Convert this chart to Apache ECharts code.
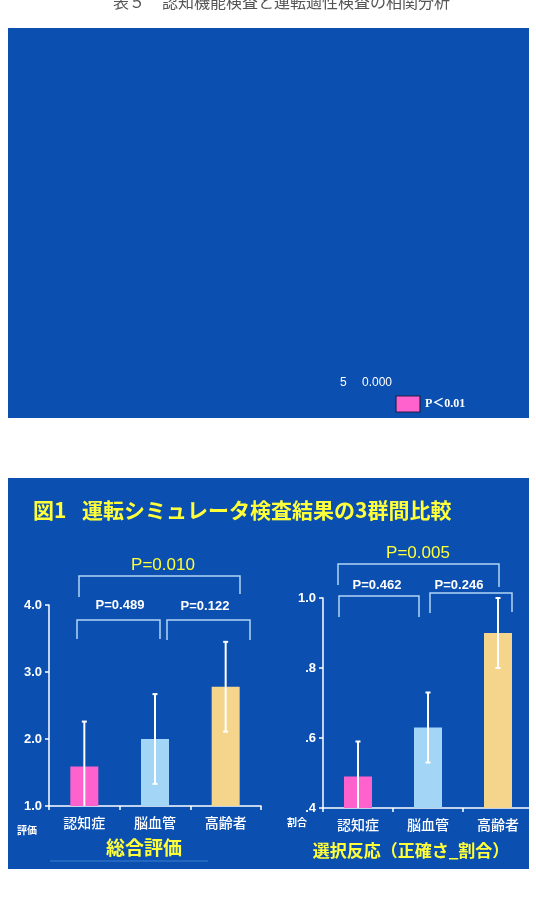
<!DOCTYPE html>
<html><head><meta charset="utf-8">
<script src="https://cdn.jsdelivr.net/npm/echarts@6/dist/echarts.min.js"></script>
<style>html,body{margin:0;padding:0;background:#fff}#c{width:536px;height:906px}</style>
</head><body><div id="c"></div>
<script>
// ---- data ----
var groups = ['認知症', '脳血管', '高齢者'];
var totalMean = [1.59, 2.00, 2.78];
var totalSD = [0.67, 0.67, 0.67];
var choiceMean = [0.49, 0.63, 0.90];
var choiceSD = [0.10, 0.10, 0.10];
var totalTicks = [1.0, 4.0, 1.0];   // min, max, interval
var choiceTicks = [0.4, 1.0, 0.2];
var pTotal = ['P=0.010', 'P=0.489', 'P=0.122'];
var pChoice = ['P=0.005', 'P=0.462', 'P=0.246'];
var barColors = ['#ff62cc', '#a3d5f7', '#f5d58c'];

var BLUE = '#0b4fb1', YEL = '#ffff3a', BR = '#b3d6f6';
var chart = echarts.init(document.getElementById('c'), null, {renderer: 'canvas'});

function errData(mean, sd) {
  return mean.map(function (m, i) { return [i, m - sd[i], m + sd[i]]; });
}
function errRender(minV) {
  return function (params, api) {
    var i = api.value(0), lo = api.value(1), hi = api.value(2);
    var clipped = lo < minV;
    var top = api.coord([i, hi]);
    var bot = api.coord([i, Math.max(lo, minV)]);
    var ch = [
      {type: 'line', shape: {x1: top[0], y1: top[1], x2: bot[0], y2: bot[1]}, style: {stroke: '#fff', lineWidth: 2}},
      {type: 'line', shape: {x1: top[0] - 2.5, y1: top[1], x2: top[0] + 2.5, y2: top[1]}, style: {stroke: '#fff', lineWidth: 2}}
    ];
    if (!clipped) ch.push({type: 'line', shape: {x1: bot[0] - 2.5, y1: bot[1], x2: bot[0] + 2.5, y2: bot[1]}, style: {stroke: '#fff', lineWidth: 2}});
    return {type: 'group', children: ch};
  };
}
function yFmt1(v) { return v.toFixed(1); }
function yFmt2(v) { return v.toFixed(1).replace(/^0/, ''); }

function yAxis(gi, t, fmt) {
  return {
    gridIndex: gi, type: 'value', min: t[0], max: t[1], interval: t[2],
    axisLine: {show: true, lineStyle: {color: '#fff', width: 1.5}},
    axisTick: {show: true, length: 4, lineStyle: {color: '#fff', width: 1.5}},
    splitLine: {show: false},
    axisLabel: {color: '#fff', fontSize: 13, fontWeight: 'bold', fontFamily: 'Liberation Sans, Arial', margin: 7, formatter: fmt}
  };
}
function xAxis(gi) {
  return {
    gridIndex: gi, type: 'category', data: groups,
    axisLine: {show: true, lineStyle: {color: '#fff', width: 1.5}},
    axisTick: {show: true, length: 4, lineStyle: {color: '#fff', width: 1.5}},
    axisLabel: {color: '#fff', fontSize: 14, fontWeight: 500, fontFamily: 'Noto Sans CJK JP', margin: 10}
  };
}
function bars(xi, mean) {
  return {
    type: 'bar', xAxisIndex: xi, yAxisIndex: xi, barWidth: 28,
    data: mean.map(function (v, i) { return {value: v, itemStyle: {color: barColors[i]}}; })
  };
}
function txt(x, y, s, font, fill, align) {
  return {type: 'text', x: x, y: y, z: 5, style: {text: s, font: font, fill: fill, align: align || 'center', verticalAlign: 'middle'}};
}
function bracket(x1, x2, y, y1b, y2b) {
  return {type: 'polyline', z: 5, shape: {points: [[x1, y1b], [x1, y], [x2, y], [x2, y2b]]}, style: {stroke: BR, lineWidth: 1.5, fill: null}};
}

var option = {
  backgroundColor: '#ffffff',
  animation: false,
  grid: [
    {left: 49, top: 605, width: 212, height: 201, containLabel: false},
    {left: 323, top: 598, width: 210, height: 210, containLabel: false}
  ],
  xAxis: [xAxis(0), xAxis(1)],
  yAxis: [yAxis(0, totalTicks, yFmt1), yAxis(1, choiceTicks, yFmt2)],
  series: [
    bars(0, totalMean), bars(1, choiceMean),
    {type: 'custom', xAxisIndex: 0, yAxisIndex: 0, z: 5, renderItem: errRender(totalTicks[0]), data: errData(totalMean, totalSD)},
    {type: 'custom', xAxisIndex: 1, yAxisIndex: 1, z: 5, renderItem: errRender(choiceTicks[0]), data: errData(choiceMean, choiceSD)}
  ],
  graphic: {elements: [
    {type: 'rect', z: -10, shape: {x: 8, y: 28, width: 521, height: 390}, style: {fill: BLUE}},
    {type: 'rect', z: -10, shape: {x: 8, y: 478, width: 521, height: 391}, style: {fill: BLUE}},
    txt(113, 2, '表５', '16px "Noto Sans CJK JP"', '#555', 'left'),
    txt(162, 2, '認知機能検査と運転適性検査の相関分析', '16px "Noto Sans CJK JP"', '#555', 'left'),
    txt(340, 383, '5', '12px "Liberation Sans"', '#fff', 'left'),
    txt(362, 383, '0.000', '12px "Liberation Sans"', '#fff', 'left'),
    {type: 'rect', z: 5, shape: {x: 396, y: 396, width: 24, height: 16}, style: {fill: '#ff62cc', stroke: '#222244', lineWidth: 1.2}},
    txt(425, 404, 'P＜0.01', 'bold 12px "Liberation Serif", "Noto Sans CJK JP"', '#fff', 'left'),
    txt(33, 510, '図1', 'bold 21px "Noto Sans CJK JP"', YEL, 'left'),
    txt(82, 510, '運転シミュレータ検査結果の3群間比較', 'bold 21px "Noto Sans CJK JP"', YEL, 'left'),
    // left chart annotations
    txt(163, 565, pTotal[0], '17px "Liberation Sans"', YEL),
    bracket(79, 240, 576, 597, 594),
    txt(120, 605, pTotal[1], 'bold 13px "Liberation Sans"', '#fff'),
    bracket(77, 160, 620, 639, 639),
    txt(205, 606, pTotal[2], 'bold 13px "Liberation Sans"', '#fff'),
    bracket(167, 250, 620, 640, 640),
    txt(27, 830, '評価', 'bold 10px "Noto Sans CJK JP"', '#fff'),
    txt(144, 848, '総合評価', 'bold 19px "Noto Sans CJK JP"', YEL),
    {type: 'line', z: 5, shape: {x1: 50, y1: 861, x2: 208, y2: 861}, style: {stroke: '#3d7fcf', lineWidth: 1}},
    // right chart annotations
    txt(418, 553, pChoice[0], '17px "Liberation Sans"', YEL),
    bracket(338, 499, 564, 585, 587),
    txt(377, 585, pChoice[1], 'bold 13px "Liberation Sans"', '#fff'),
    bracket(339, 419, 596, 617, 617),
    txt(459, 585, pChoice[2], 'bold 13px "Liberation Sans"', '#fff'),
    bracket(430, 512, 593, 613, 612),
    txt(297, 822, '割合', 'bold 10px "Noto Sans CJK JP"', '#fff'),
    txt(411, 851, '選択反応（正確さ_割合）', 'bold 17px "Noto Sans CJK JP"', YEL)
  ]}
};
chart.setOption(option);
</script></body></html>
